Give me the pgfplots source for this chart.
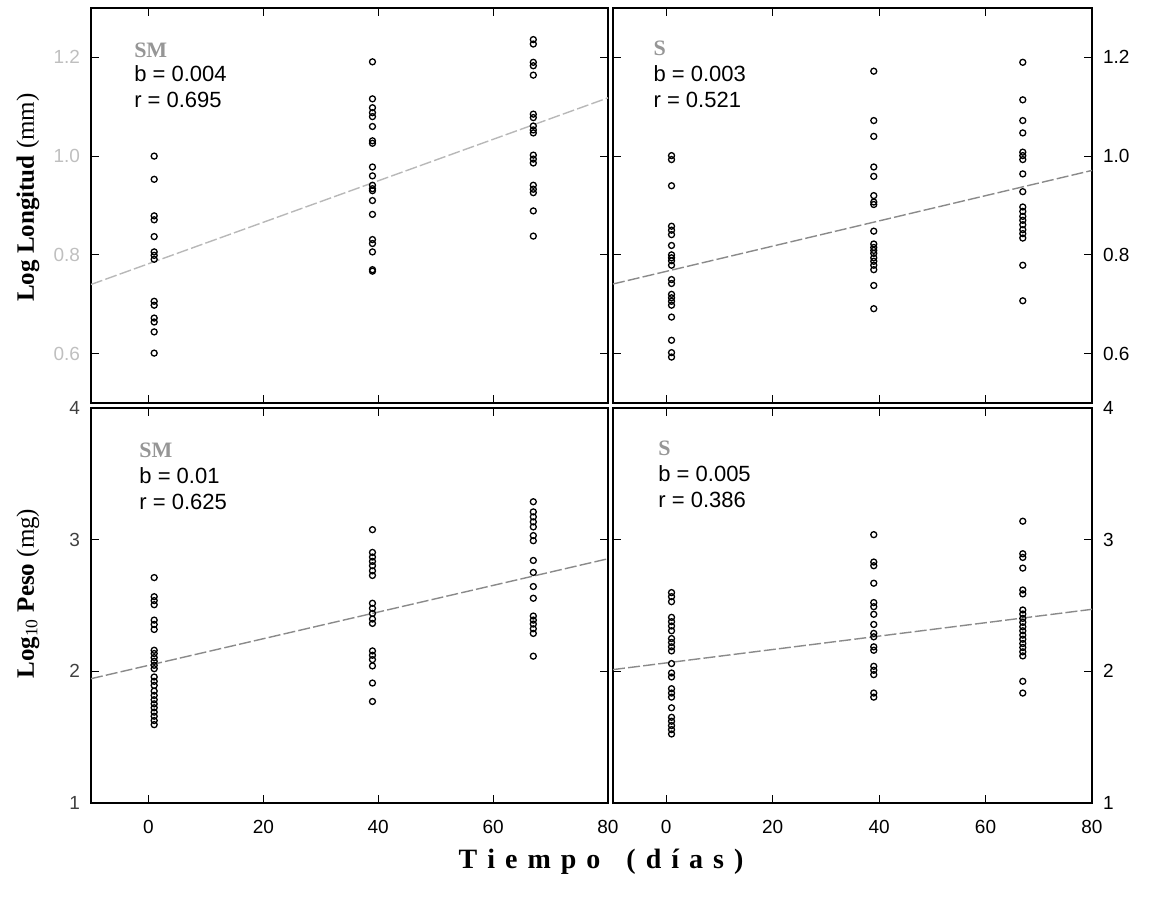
\documentclass[border=0pt]{standalone}
\usepackage{fontspec}
\setmainfont{Liberation Serif}
\newfontfamily\arial{Liberation Sans}
\usepackage{pgfplots}
\pgfplotsset{compat=1.18}
\definecolor{tag}{HTML}{969696}
\definecolor{fitlight}{HTML}{B8B8B8}
\definecolor{fitdark}{HTML}{8A8A8A}

\pgfplotsset{
  panel/.style={
    scale only axis, height=197.5pt,
    xmin=-10, xmax=80, xtick={0,20,40,60,80},
    tick align=inside, xtick pos=both, ytick pos=both,
    major tick length=4pt,
    axis line style={line width=0.9pt},
    tick style={line width=0.6pt, black},
    ticklabel style={font=\arial\fontsize{9.5}{11}\selectfont},
    clip=false,
  },
  pts/.style={only marks, mark=o, mark size=1.5pt, mark options={line width=0.65pt, black}},
  fit/.style={no marks, line width=0.7pt, dash pattern=on 6pt off 1.6pt},
}
\tikzset{
  tagtxt/.style={anchor=west, text=tag, font=\bfseries\fontsize{11}{12}\selectfont},
  stat/.style={anchor=west, font=\arial\fontsize{11}{12}\selectfont},
}

\begin{document}
\begin{tikzpicture}
% ---- top left: SM, log length
\begin{axis}[panel, at={(45.5pt,248pt)}, anchor=south west, width=258.5pt,
  ymin=0.5, ymax=1.3, ytick={0.6,0.8,1.0,1.2}, yticklabels={0.6,0.8,1.0,1.2},
  xticklabels=\empty,
  yticklabel style={text=black!25, xshift=-2pt},
  ylabel={{\bfseries Log Longitud} (mm)},
  ylabel style={at={(rel axis cs:-0.122,0.52)}, anchor=center, font=\fontsize{12.5}{14}\selectfont}]
\addplot[pts] coordinates {
  (1,1.000) (1,0.953) (1,0.879) (1,0.871) (1,0.837) (1,0.806) (1,0.799) (1,0.791)
  (1,0.706) (1,0.698) (1,0.672) (1,0.664) (1,0.644) (1,0.601)
  (39,1.191) (39,1.116) (39,1.098) (39,1.088) (39,1.080) (39,1.060) (39,1.031) (39,1.026)
  (39,0.978) (39,0.960) (39,0.941) (39,0.934) (39,0.930) (39,0.910) (39,0.882) (39,0.831)
  (39,0.823) (39,0.806) (39,0.770) (39,0.767)
  (67,1.236) (67,1.227) (67,1.190) (67,1.183) (67,1.164) (67,1.085) (67,1.078) (67,1.061)
  (67,1.053) (67,1.047) (67,1.002) (67,0.994) (67,0.986) (67,0.941) (67,0.933) (67,0.926)
  (67,0.889) (67,0.838)
};
\addplot[fit, fitlight] coordinates {(-10,0.740) (80,1.118)};
\node[tagtxt] at (rel axis cs:0.070,0.894) {SM};
\node[stat] at (rel axis cs:0.070,0.833) {b = 0.004};
\node[stat] at (rel axis cs:0.070,0.767) {r = 0.695};
\end{axis}

% ---- top right: S, log length
\begin{axis}[panel, at={(306.5pt,248pt)}, anchor=south west, width=239.5pt,
  ymin=0.5, ymax=1.3, ytick={0.6,0.8,1.0,1.2}, yticklabels={0.6,0.8,1.0,1.2},
  xticklabels=\empty, yticklabel pos=right,
  yticklabel style={xshift=2pt}]
\addplot[pts] coordinates {
  (1,1.001) (1,0.993) (1,0.940) (1,0.858) (1,0.850) (1,0.841) (1,0.819) (1,0.800)
  (1,0.794) (1,0.788) (1,0.779) (1,0.750) (1,0.742) (1,0.720) (1,0.713) (1,0.706)
  (1,0.698) (1,0.674) (1,0.627) (1,0.602) (1,0.593)
  (39,1.172) (39,1.072) (39,1.040) (39,0.978) (39,0.959) (39,0.920) (39,0.907) (39,0.902)
  (39,0.848) (39,0.822) (39,0.815) (39,0.809) (39,0.803) (39,0.794) (39,0.787) (39,0.779)
  (39,0.770) (39,0.738) (39,0.691)
  (67,1.190) (67,1.114) (67,1.072) (67,1.047) (67,1.008) (67,1.001) (67,0.993) (67,0.964)
  (67,0.928) (67,0.897) (67,0.888) (67,0.878) (67,0.870) (67,0.861) (67,0.851) (67,0.843)
  (67,0.834) (67,0.779) (67,0.707)
};
\addplot[fit, fitdark] coordinates {(-10,0.741) (80,0.971)};
\node[tagtxt] at (rel axis cs:0.070,0.899) {S};
\node[stat] at (rel axis cs:0.070,0.833) {b = 0.003};
\node[stat] at (rel axis cs:0.070,0.767) {r = 0.521};
\end{axis}

% ---- bottom left: SM, log weight
\begin{axis}[panel, at={(45.5pt,48pt)}, anchor=south west, width=258.5pt,
  ymin=1, ymax=4, ytick={1,2,3,4}, yticklabels={1,2,3,4},
  xticklabels={0,20,40,60,80},
  yticklabel style={text=black!75, xshift=-2pt},
  xticklabel style={yshift=-5pt},
  ylabel={{\bfseries Log}\textsubscript{10} {\bfseries Peso} (mg)},
  ylabel style={at={(rel axis cs:-0.122,0.53)}, anchor=center, font=\fontsize{12.5}{14}\selectfont}]
\addplot[pts] coordinates {
  (1,2.712) (1,2.567) (1,2.537) (1,2.506) (1,2.389) (1,2.356) (1,2.318) (1,2.160)
  (1,2.135) (1,2.104) (1,2.076) (1,2.046) (1,2.020) (1,1.957) (1,1.924) (1,1.893)
  (1,1.850) (1,1.817) (1,1.784) (1,1.753) (1,1.723) (1,1.690) (1,1.659) (1,1.626) (1,1.595)
  (39,3.076) (39,2.903) (39,2.868) (39,2.835) (39,2.802) (39,2.763) (39,2.728) (39,2.517)
  (39,2.478) (39,2.440) (39,2.397) (39,2.364) (39,2.155) (39,2.122) (39,2.089) (39,2.041)
  (39,1.911) (39,1.771)
  (67,3.288) (67,3.211) (67,3.173) (67,3.135) (67,3.097) (67,3.031) (67,2.992) (67,2.842)
  (67,2.751) (67,2.644) (67,2.555) (67,2.420) (67,2.389) (67,2.359) (67,2.323) (67,2.288)
  (67,2.115)
};
\addplot[fit, fitdark] coordinates {(-10,1.944) (80,2.855)};
\node[tagtxt] at (rel axis cs:0.080,0.894) {SM};
\node[stat] at (rel axis cs:0.080,0.830) {b = 0.01};
\node[stat] at (rel axis cs:0.080,0.762) {r = 0.625};
\end{axis}

% ---- bottom right: S, log weight
\begin{axis}[panel, at={(306.5pt,48pt)}, anchor=south west, width=239.5pt,
  ymin=1, ymax=4, ytick={1,2,3,4}, yticklabels={1,2,3,4},
  xticklabels={0,20,40,60,80}, yticklabel pos=right,
  yticklabel style={xshift=2pt},
  xticklabel style={yshift=-5pt}]
\addplot[pts] coordinates {
  (1,2.598) (1,2.567) (1,2.529) (1,2.410) (1,2.377) (1,2.344) (1,2.308) (1,2.249)
  (1,2.219) (1,2.186) (1,2.155) (1,2.059) (1,1.987) (1,1.957) (1,1.868) (1,1.835)
  (1,1.804) (1,1.723) (1,1.651) (1,1.621) (1,1.588) (1,1.557) (1,1.524)
  (39,3.038) (39,2.830) (39,2.802) (39,2.669) (39,2.522) (39,2.491) (39,2.433) (39,2.356)
  (39,2.288) (39,2.262) (39,2.186) (39,2.160) (39,2.038) (39,2.008) (39,1.975) (39,1.835)
  (39,1.804)
  (67,3.140) (67,2.893) (67,2.865) (67,2.784) (67,2.618) (67,2.588) (67,2.466) (67,2.435)
  (67,2.402) (67,2.372) (67,2.338) (67,2.308) (67,2.275) (67,2.244) (67,2.211) (67,2.181)
  (67,2.148) (67,2.117) (67,1.924) (67,1.835)
};
\addplot[fit, fitdark] coordinates {(-10,2.013) (80,2.471)};
\node[tagtxt] at (rel axis cs:0.080,0.899) {S};
\node[stat] at (rel axis cs:0.080,0.833) {b = 0.005};
\node[stat] at (rel axis cs:0.080,0.767) {r = 0.386};
\end{axis}

% shared x label
\def\ls{\kern5pt}
\node[font=\bfseries\fontsize{14}{16}\selectfont] at (300.5pt,18.5pt)
  {T\ls i\ls e\ls m\ls p\ls o\hspace{13pt}(\ls d\ls í\ls a\ls s\ls )};

\pgfresetboundingbox
\path[use as bounding box] (0,0) rectangle (587.5pt,449.5pt);
\end{tikzpicture}
\end{document}
